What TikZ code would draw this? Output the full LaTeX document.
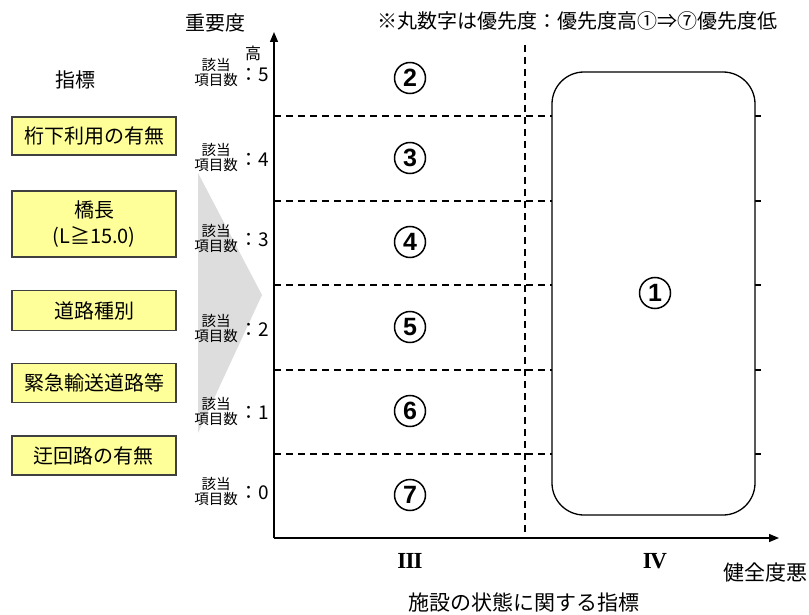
\documentclass[tikz,border=0pt]{standalone}
\usepackage{fontspec}
\setmainfont{Noto Sans CJK JP}
\newfontfamily\numfont{Liberation Sans}
\newfontfamily\romfont{Liberation Serif}
\usetikzlibrary{arrows.meta}
\definecolor{boxy}{HTML}{FFFF99}
\definecolor{boxline}{HTML}{404040}
\definecolor{tri}{HTML}{DDDDDD}
\begin{document}
\begin{tikzpicture}[x=1pt,y=-1pt,
  ind/.style={draw=boxline, fill=boxy, line width=1.3pt, minimum width=164pt, inner sep=0pt,
              font=\fontsize{20}{26}\selectfont, align=center},
  axis/.style={line width=1.3pt, -{Triangle[length=10pt,width=8pt]}},
  grid/.style={line width=1.1pt, dash pattern=on 7pt off 5pt},
  cnum/.style={circle, draw, line width=1.5pt, minimum size=31pt, inner sep=0pt,
               font=\numfont\bfseries\fontsize{25}{25}\selectfont},
  gai/.style={font=\fontsize{14.5}{15}\selectfont, align=center, inner sep=0pt},
  cnt/.style={font=\fontsize{19}{19}\selectfont, inner sep=0pt},
  lbl/.style={font=\fontsize{20}{22}\selectfont, inner sep=0pt},
  roman/.style={font=\romfont\bfseries\fontsize{23}{23}\selectfont, inner sep=0pt}]
\useasboundingbox (0,0) rectangle (809,615);

% gray triangle
\fill[tri] (198,173) -- (262,295) -- (198,433) -- cycle;

% dashed grid
\foreach \yy in {116,201,285,370,454} \draw[grid] (274,\yy) -- (765,\yy);
\draw[grid] (525,45) -- (525,538);

% axes
\coordinate (O) at (274,538);
\coordinate (ytop) at (274,32);
\coordinate (xend) at (779,538);
\draw[axis] (O) -- (ytop);
\draw[axis] (O) -- (xend);

% big rounded box
\node[draw, fill=white, line width=1.3pt, rounded corners=32pt, minimum width=203pt,
      minimum height=443pt, inner sep=0pt] (r1) at (653.5,293.5) {};
\node[cnum] (c1) at (655,293) {1};

% circled numbers in column III
\node[cnum] (c2) at (410,78) {2};
\node[cnum] (c3) at (410,158) {3};
\node[cnum] (c4) at (410,242) {4};
\node[cnum] (c5) at (410,327) {5};
\node[cnum] (c6) at (410,411) {6};
\node[cnum] (c7) at (410,495) {7};

% left indicator boxes
\node[lbl] (shihyo) at (75,80) {指標};
\node[ind, minimum height=38pt] (b1) at (94,136) {桁下利用の有無};
\node[ind, minimum height=66pt] (b2) at (94,224) {橋長\\(L≧15.0)};
\node[ind, minimum height=40pt] (b3) at (94,310.5) {道路種別};
\node[ind, minimum height=39pt] (b4) at (94,383) {緊急輸送道路等};
\node[ind, minimum height=39pt] (b5) at (94,455.5) {迂回路の有無};

% count labels
\node[gai] (g5) at (216,73) {該当\\項目数};
\node[cnt] (n5) at (254,75) {：5};
\node[gai] (g4) at (216,158) {該当\\項目数};
\node[cnt] (n4) at (254,160) {：4};
\node[gai] (g3) at (216,239) {該当\\項目数};
\node[cnt] (n3) at (254,240) {：3};
\node[gai] (g2) at (216,329) {該当\\項目数};
\node[cnt] (n2) at (254,330) {：2};
\node[gai] (g1) at (216,412) {該当\\項目数};
\node[cnt] (n1) at (254,413) {：1};
\node[gai] (g0) at (216,492) {該当\\項目数};
\node[cnt] (n0) at (254,493) {：0};

% axis labels
\node[lbl] (jyuyo) at (215,23) {重要度};
\node[font=\fontsize{16}{16}\selectfont, inner sep=0pt] (taka) at (253,53) {高};
\node[lbl] (note) at (577,21) {※丸数字は優先度：優先度高①⇒⑦優先度低};
\node[roman] (q3) at (410,561) {I\kern-0.8ptI\kern-0.8ptI};
\node[roman] (q4) at (655,561) {I\kern-1.5ptV};
\node[font=\fontsize{21}{22}\selectfont, inner sep=0pt] (warui) at (765,573) {健全度悪};
\node[font=\fontsize{21}{22}\selectfont, inner sep=0pt] (shisetsu) at (524,602) {施設の状態に関する指標};
\end{tikzpicture}
\end{document}
